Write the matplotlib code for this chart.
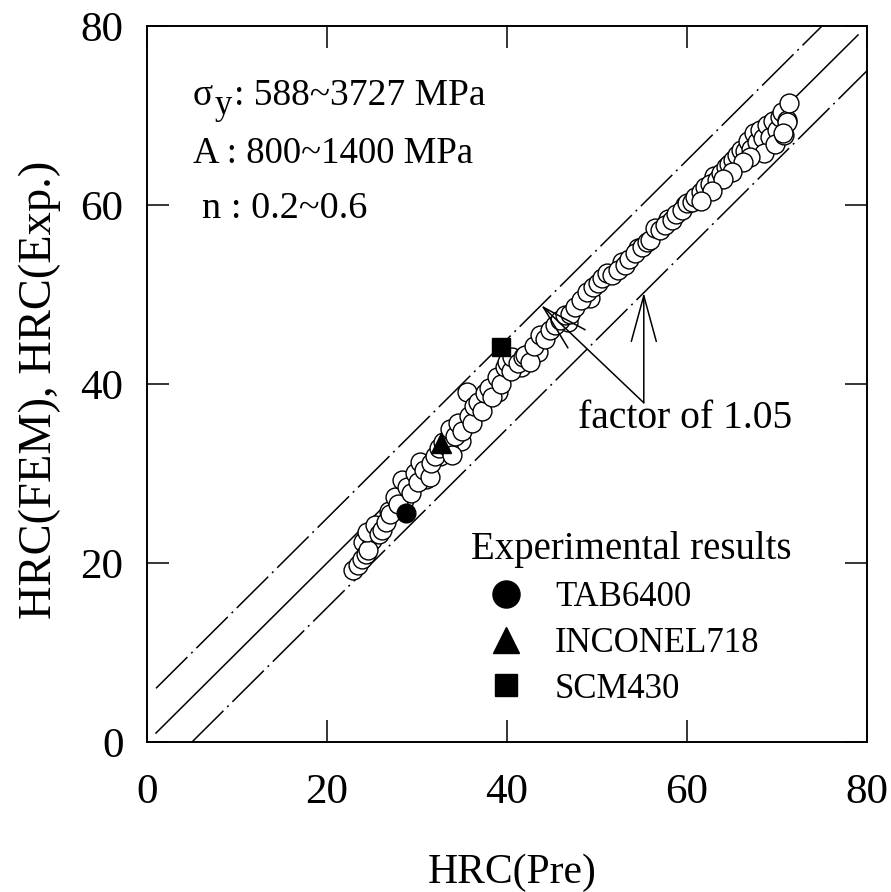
import matplotlib
matplotlib.use("Agg")
import matplotlib.pyplot as plt
from matplotlib.lines import Line2D

plt.rcParams["font.family"] = ["Liberation Serif", "DejaVu Serif"]

# FEM results: HRC(Pre) vs HRC(FEM)
pre_fem = [24.0, 25.0, 26.9, 28.6, 31.0, 32.6, 34.9, 36.6, 39.0, 41.5, 43.4, 46.8, 49.2, 52.8,
           54.6, 57.9, 59.8, 63.0,
           22.9, 23.4, 23.9, 24.3, 24.6, 24.4, 25.3, 25.8, 26.1, 26.6, 27.0, 27.6, 27.9, 28.3,
           28.9, 29.3, 29.8, 30.1, 30.3, 30.8, 31.4, 31.6, 32.0, 32.4, 32.9, 33.4, 33.9, 33.7,
           34.2, 34.6, 35.0, 35.5, 35.8, 36.1, 36.3, 36.8, 37.2, 37.6, 38.0, 38.3, 38.9, 39.3,
           39.8, 40.0, 40.4,
           40.6, 41.2, 41.8, 42.0, 42.5, 43.0, 43.7, 44.2, 44.8, 45.3, 45.9, 46.4, 47.0, 47.6,
           48.2, 48.9, 49.5, 50.1, 50.6, 51.1, 51.7, 52.3, 53.1, 53.6, 54.2, 55.0, 55.5, 55.9,
           56.4, 57.0, 57.6, 58.3, 58.8, 59.4, 60.0, 60.5, 60.9, 61.5, 62.0, 62.6, 63.3, 63.8,
           64.3, 64.7, 65.1, 65.5, 66.0, 66.4, 66.8, 67.1, 67.4, 67.8, 68.1, 68.4, 68.9, 69.2,
           69.6, 70.0, 70.3, 70.5, 71.1, 71.3, 68.6, 67.0, 69.8, 70.8, 66.2, 65.0, 64.0, 62.8,
           61.6, 71.1, 70.7]
hrc_fem = [22.4, 22.6, 25.8, 27.0, 29.4, 31.9, 33.6, 36.9, 39.1, 41.9, 43.6, 46.9, 49.6, 53.6,
           55.2, 58.4, 60.0, 63.2,
           19.2, 19.8, 20.5, 21.0, 21.4, 23.5, 24.2, 23.2, 23.7, 24.6, 25.5, 27.4, 26.6, 29.3,
           28.5, 27.8, 30.0, 29.1, 31.3, 30.4, 29.6, 31.2, 31.9, 32.8, 33.5, 33.0, 32.1, 35.0,
           34.2, 35.6, 34.8, 39.1, 36.4, 35.6, 37.5, 38.0, 37.0, 39.0, 39.6, 38.6, 40.8, 40.0,
           41.9, 42.5, 41.4,
           43.0, 42.4, 43.0, 43.2, 42.5, 44.2, 45.5, 45.0, 46.0, 46.6, 47.2, 47.7, 47.8, 48.6,
           49.4, 50.3, 50.8, 51.3, 51.8, 52.4, 52.2, 52.7, 53.3, 54.0, 54.6, 55.3, 55.9, 56.1,
           57.4, 57.2, 57.8, 58.3, 59.0, 59.4, 60.2, 60.3, 60.9, 61.4, 62.0, 62.3, 62.8, 63.6,
           64.2, 64.6, 65.0, 65.6, 66.2, 66.0, 67.2, 66.3, 68.0, 67.0, 68.4, 67.5, 68.9, 67.6,
           69.4, 68.4, 69.8, 70.4, 69.5, 71.4, 65.8, 65.4, 66.8, 67.8, 64.8, 63.7, 62.9, 61.6,
           60.4, 69.3, 68.0]

# experimental results
exp_names = ["TAB6400", "INCONEL718", "SCM430"]
exp_markers = ["o", "^", "s"]
exp_pre = [28.8, 32.7, 39.3]
exp_hrc = [25.6, 33.4, 44.1]

# reference lines: 1:1 and +/-5 HRC band
ref_x = [1, 79]
upper_x = [1, 75]
lower_x = [5, 80]
band = 5

fig = plt.figure(figsize=(8.91, 8.92), dpi=100)
ax = fig.add_axes([147 / 891, 150 / 892, 720 / 891, 716 / 892])

ax.plot(ref_x, ref_x, color="k", lw=1.1)
ax.plot(upper_x, [v + band for v in upper_x], color="k", lw=1.1, dashes=(29, 3.5, 1.3, 3.5))
ax.plot(lower_x, [v - band for v in lower_x], color="k", lw=1.1, dashes=(29, 3.5, 1.3, 3.5))

ax.scatter(pre_fem, hrc_fem, s=185, facecolor="white", edgecolor="k", linewidth=1.0, zorder=3)

exp_sizes = [13.5, 14.5, 12.5]
for px, py, m, ms in zip(exp_pre, exp_hrc, exp_markers, exp_sizes):
    ax.plot(px, py, marker=m, ms=ms, color="k", ls="none", zorder=4)

ax.set_xlim(0, 80)
ax.set_ylim(0, 80)
ax.set_xticks([0, 20, 40, 60, 80])
ax.set_yticks([0, 20, 40, 60, 80])
ax.tick_params(direction="in", length=16, width=1.1, top=True, right=True, labelsize=31)
ax.tick_params(axis="x", pad=23)
ax.tick_params(axis="y", pad=17)
for sp in ax.spines.values():
    sp.set_linewidth(1.4)

ax.set_xlabel("HRC(Pre)", fontsize=30, va="baseline")
ax.xaxis.set_label_coords(0.507, -0.197)
ax.set_ylabel("HRC(FEM), HRC(Exp.)", fontsize=33.5, va="center")
ax.yaxis.set_label_coords(-0.149, 0.492)

# material parameter ranges (sigma with a large, lowered subscript y)
ax.text(5.1, 71.2, "σ", fontsize=27, va="baseline")
ax.text(7.55, 70.2, "y", fontsize=25, va="baseline")
ax.text(9.7, 71.2, ": 588~3727 MPa", fontsize=27, va="baseline")
ax.text(5.1, 64.7, "A : 800~1400 MPa", fontsize=26.5, va="baseline")
ax.text(6.1, 58.5, "n : 0.2~0.6", fontsize=27.5, va="baseline")

# factor of 1.05 arrows
arrow_style = dict(arrowstyle="->,head_length=3.3,head_width=0.9", mutation_scale=10,
                   lw=1.1, color="k", shrinkA=0, shrinkB=0)
ax.annotate("", xy=(43.8, 48.8), xytext=(55.2, 37.9), arrowprops=arrow_style)
ax.annotate("", xy=(55.2, 50.2), xytext=(55.2, 37.9), arrowprops=arrow_style)
ax.text(47.9, 36.2, "factor of 1.05", fontsize=28.5, va="center")

handles = [Line2D([], [], marker=m, ms=s, color="k", ls="none")
           for m, s in zip(exp_markers, [19.5, 19, 16.5])]
leg = ax.legend(handles, exp_names, title="Experimental results", title_fontsize=28,
                fontsize=25, loc="upper left", bbox_to_anchor=(471 / 891, 1 - 531 / 892),
                bbox_transform=fig.transFigure, frameon=False, borderpad=0, borderaxespad=0,
                handlelength=2.0, handletextpad=0.42, labelspacing=0.37, alignment="left")

fig.savefig("out.png", dpi=100)
